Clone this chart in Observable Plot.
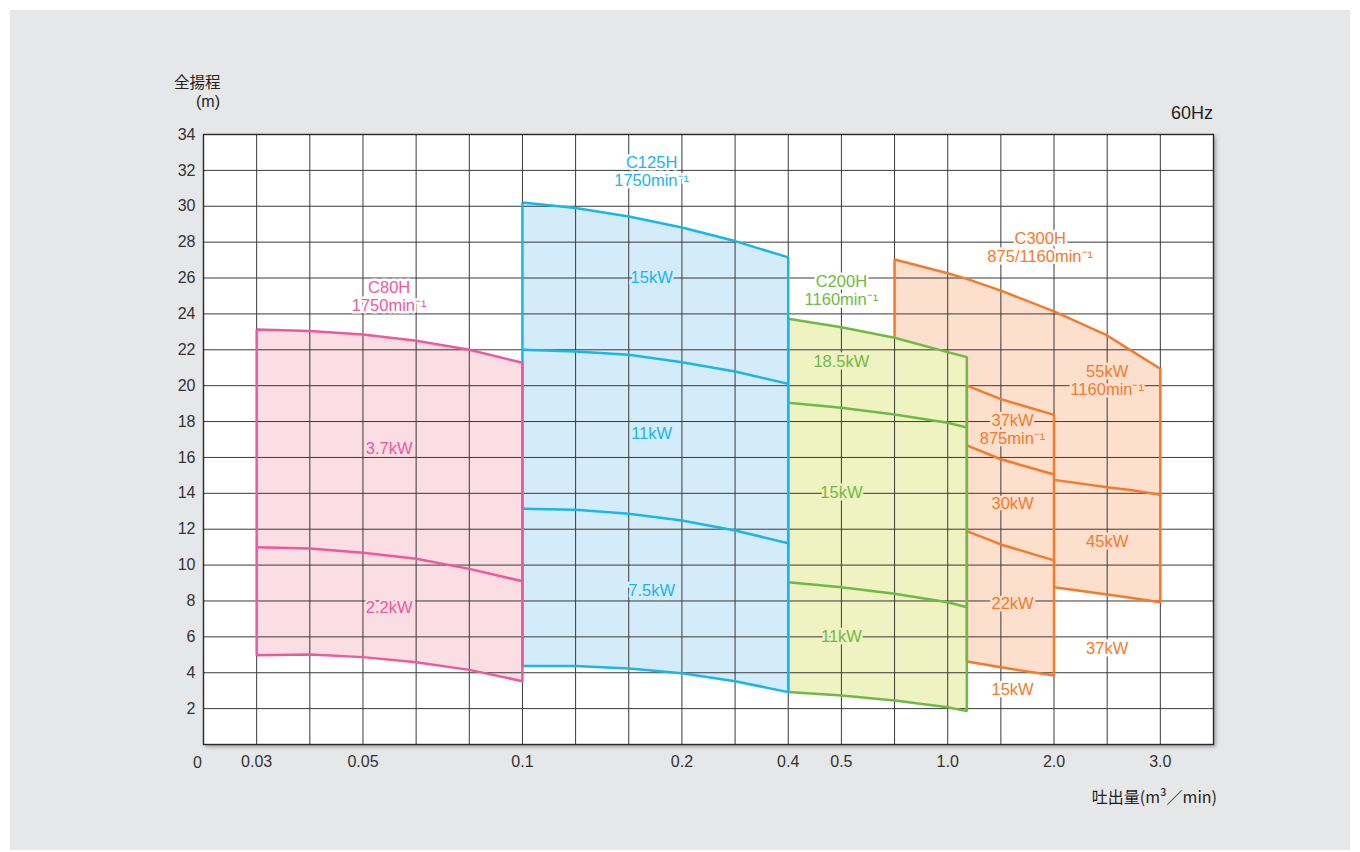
<!DOCTYPE html>
<html><head><meta charset="utf-8">
<script src="https://cdn.jsdelivr.net/npm/d3@7"></script>
<script src="https://cdn.jsdelivr.net/npm/@observablehq/plot@0.6"></script>
<style>
body{margin:0;background:#fff;font-family:"Liberation Sans","Noto Sans CJK JP",sans-serif;}
#wrap{position:relative;width:1360px;height:852px;overflow:hidden;}
#panel{position:absolute;left:10px;top:10px;width:1340px;height:840px;background:#e6e7e9;}
#chart{position:absolute;left:0;top:0;}
.t{position:absolute;color:#231f20;white-space:nowrap;}
.jp{font-family:"Noto Sans CJK JP","Liberation Sans",sans-serif;}
</style></head><body>
<div id="wrap">
<div id="panel"></div>
<div id="chart"></div>
<div class="t jp" style="left:174px;top:73px;font-size:15.5px;line-height:16px;">全揚程</div>
<div class="t" style="left:196px;top:93px;font-size:16px;line-height:18px;">(m)</div>
<div class="t" style="right:147px;top:104px;font-size:18px;line-height:18px;">60Hz</div>
<div class="t jp" style="right:143px;top:788px;font-size:16px;line-height:17px;">吐出量(m³／min)</div>
</div>
<script>
// ---------- axes ----------
const qAnchors   = [0, 0.03, 0.05, 0.1, 0.2, 0.4, 0.5, 1.0, 2.0, 3.0, 3.5]; // m³/min
const qAnchorCell = [0, 1, 3, 6, 9, 11, 12, 14, 16, 18, 19];               // grid cell on chart
const qLabels = [0.03, 0.05, 0.1, 0.2, 0.4, 0.5, 1.0, 2.0, 3.0];
const hTicks = [2, 4, 6, 8, 10, 12, 14, 16, 18, 20, 22, 24, 26, 28, 30, 32, 34];
const hGrid  = [2, 4, 6, 8, 10, 12, 14, 16, 18, 20, 22, 24, 26, 28, 30, 32];

// ---------- C80H 1750 min-1 ----------
const c80Q    = [0.03, 0.04, 0.05, 0.0667, 0.0833, 0.1];
const c80H37  = [23.13, 23.05, 22.85, 22.5, 22.0, 21.28];
const c80H22  = [11.0, 10.93, 10.69, 10.35, 9.79, 9.10];
const c80Hmin = [4.98, 5.02, 4.87, 4.59, 4.16, 3.53];

// ---------- C125H 1750 min-1 ----------
const c125Q    = [0.1, 0.1333, 0.1667, 0.2, 0.3, 0.4];
const c125H15  = [30.21, 29.9, 29.43, 28.82, 28.06, 27.15];
const c125H11  = [22.0, 21.9, 21.72, 21.31, 20.79, 20.1];
const c125H75  = [13.14, 13.08, 12.86, 12.49, 11.93, 11.22];
const c125Hmin = [4.37, 4.37, 4.24, 3.97, 3.53, 2.92];

// ---------- C200H 1160 min-1 ----------
const c200Q    = [0.4, 0.5, 0.75, 1.0, 1.18];
const c200H185 = [23.73, 23.26, 22.67, 21.87, 21.59];
const c200H15  = [19.05, 18.77, 18.39, 17.93, 17.67];
const c200H11  = [9.05, 8.77, 8.4, 7.93, 7.65];
const c200Hmin = [2.92, 2.73, 2.45, 2.08, 1.86];

// ---------- C300H 875/1160 min-1 ----------
const c300Q    = [0.75, 1.0, 1.18, 1.5, 2.0, 2.5, 2.7, 3.0];
const c300H55  = [27.03, 26.27, 25.95, 25.3, 24.14, 22.8, 22.05, 20.94];
const c300Q875 = [1.18, 1.5, 2.0];
const c300H37  = [20.0, 19.25, 18.37];
const c300H30  = [16.67, 15.9, 15.05];
const c300H22  = [11.89, 11.15, 10.26];
const c300Hmin875 = [4.63, 4.3, 3.85];
const c300Q1160 = [2.0, 2.5, 2.7, 3.0];
const c300H45   = [14.75, 14.34, 14.2, 13.92];
const c300Hmin1160 = [8.77, 8.36, 8.19, 7.93];

// ---------- labels ----------
const labelText = ["C80H\n1750min⁻¹", "3.7kW", "2.2kW",
  "C125H\n1750min⁻¹", "15kW", "11kW", "7.5kW",
  "C200H\n1160min⁻¹", "18.5kW", "15kW", "11kW",
  "C300H\n875/1160min⁻¹", "55kW\n1160min⁻¹", "37kW\n875min⁻¹", "30kW", "22kW", "15kW", "45kW", "37kW"];
const labelQ = [0.0582, 0.0582, 0.0582,
  0.181, 0.181, 0.181, 0.181,
  0.5, 0.5, 0.5, 0.5,
  1.87, 2.5, 1.61, 1.61, 1.61, 1.61, 2.5, 2.5];
const labelH = [25.0, 16.5, 7.64,
  31.97, 26.03, 17.34, 8.58,
  25.33, 21.35, 14.05, 6.02,
  27.7, 20.29, 17.59, 13.43, 7.86, 3.07, 11.32, 5.35];
const labelModel = ["C80H","C80H","C80H","C125H","C125H","C125H","C125H",
  "C200H","C200H","C200H","C200H","C300H","C300H","C300H","C300H","C300H","C300H","C300H","C300H"];
const labelOnFill = [false,true,true,false,true,true,true,false,true,true,true,false,true,true,true,true,false,true,false];

// ---------- styles ----------
const lineCol = {C80H:"#ec5a9e", C125H:"#1ab6ea", C200H:"#6fba44", C300H:"#f47a2c"};
const fillCol = {C80H:"#fbdde4", C125H:"#d4ecf9", C200H:"#eff2c1", C300H:"#fddfcd"};

const W = 1360, H = 852, ML = 203, MR = 147, MT = 134, MB = 108;
const cell = (W - ML - MR) / 19;
const xRange = qAnchorCell.map(c => ML + c * cell);
const cellToQ = d3.scaleLinear().domain(qAnchorCell).range(qAnchors);
const qGrid = d3.range(1, 19).map(i => cellToQ(i));

const pts = (q, h) => q.map((v, i) => ({q: v, h: h[i]}));
const band = (q, lo, hi) => q.map((v, i) => ({q: v, lo: lo[i], hi: hi[i]}));
const outline = (q, top, bot) => [...pts(q, top), ...pts(q, bot).reverse(), {q: q[0], h: top[0]}];

const topAt = q => c300H55[c300Q.indexOf(q)];
const c300Fill = [
  ...[0.75, 1.0, 1.18].map(q => ({q, lo: c200H185[c200Q.indexOf(q)], hi: topAt(q)})),
  ...c300Q875.map((q, i) => ({q, lo: c300Hmin875[i], hi: topAt(q)})),
  ...c300Q1160.map((q, i) => ({q, lo: c300Hmin1160[i], hi: topAt(q)}))
];
const c300Outer = [{q: 0.75, h: c200H185[c200Q.indexOf(0.75)]}, ...pts(c300Q, c300H55), ...pts(c300Q1160, c300Hmin1160).reverse()];
const c300Box875 = outline(c300Q875, c300H37, c300Hmin875);

const lw = 2.5;
const L = (data, m) => Plot.line(data, {x: "q", y: "h", stroke: lineCol[m], strokeWidth: lw, strokeLinejoin: "miter", strokeLinecap: "butt"});
const A = (data, m) => Plot.areaY(data, {x: "q", y1: "lo", y2: "hi", fill: fillCol[m]});

const labels = labelText.map((t, i) => ({t, q: labelQ[i], h: labelH[i], m: labelModel[i], on: labelOnFill[i]}));

const plot = Plot.plot({
  width: W, height: H,
  marginLeft: ML, marginRight: MR, marginTop: MT, marginBottom: MB,
  style: {background: "transparent", fontFamily: "'Liberation Sans', 'Noto Sans CJK JP', sans-serif", fontSize: "16px", color: "#333"},
  x: {type: "linear", domain: qAnchors, range: xRange, ticks: qLabels, tickSize: 0, tickPadding: 11,
      tickFormat: d => d >= 1 ? d.toFixed(1) : String(d), label: null},
  y: {domain: [0, 34], ticks: hTicks, tickSize: 0, tickPadding: 8, label: null},
  color: {type: "identity"},
  marks: [
    Plot.frame({fill: "white", stroke: null}),
    A(c300Fill, "C300H"),
    A(band(c200Q, c200Hmin, c200H185), "C200H"),
    A(band(c125Q, c125Hmin, c125H15), "C125H"),
    A(band(c80Q, c80Hmin, c80H37), "C80H"),
    Plot.ruleX(qGrid, {stroke: "#3a3a3a", strokeWidth: 1}),
    Plot.ruleY(hGrid, {stroke: "#3a3a3a", strokeWidth: 1}),
    // C300H
    L(c300Outer, "C300H"),
    L(c300Box875, "C300H"),
    L(pts(c300Q875, c300H30), "C300H"),
    L(pts(c300Q875, c300H22), "C300H"),
    L(pts(c300Q1160, c300H45), "C300H"),
    // C200H
    L(outline(c200Q, c200H185, c200Hmin), "C200H"),
    L(pts(c200Q, c200H15), "C200H"),
    L(pts(c200Q, c200H11), "C200H"),
    // C125H
    L(outline(c125Q, c125H15, c125Hmin), "C125H"),
    L(pts(c125Q, c125H11), "C125H"),
    L(pts(c125Q, c125H75), "C125H"),
    // C80H
    L(outline(c80Q, c80H37, c80Hmin), "C80H"),
    L(pts(c80Q, c80H22), "C80H"),
    // labels
    Plot.text(labels, {x: "q", y: "h", text: "t", fontSize: 16.5, lineHeight: 1.1,
      fill: d => d.on ? fillCol[d.m] : "white", stroke: d => d.on ? fillCol[d.m] : "white", strokeWidth: 5}),
    Plot.text(labels, {x: "q", y: "h", text: "t", fontSize: 16.5, lineHeight: 1.1, fill: d => lineCol[d.m]}),
    Plot.text([0], {x: d => d, frameAnchor: "bottom", lineAnchor: "middle", dy: 18, dx: -6, text: d => "0", fontSize: 16, fill: "#333"}),
    Plot.frame({stroke: "#2a2a2a", strokeWidth: 1.4})
  ]
});
document.getElementById("chart").appendChild(plot);
const fr = plot.querySelector('[aria-label="frame"]');
if (fr) fr.style.filter = "drop-shadow(2px 2px 2px rgba(0,0,0,0.35))";
</script>
</body></html>
